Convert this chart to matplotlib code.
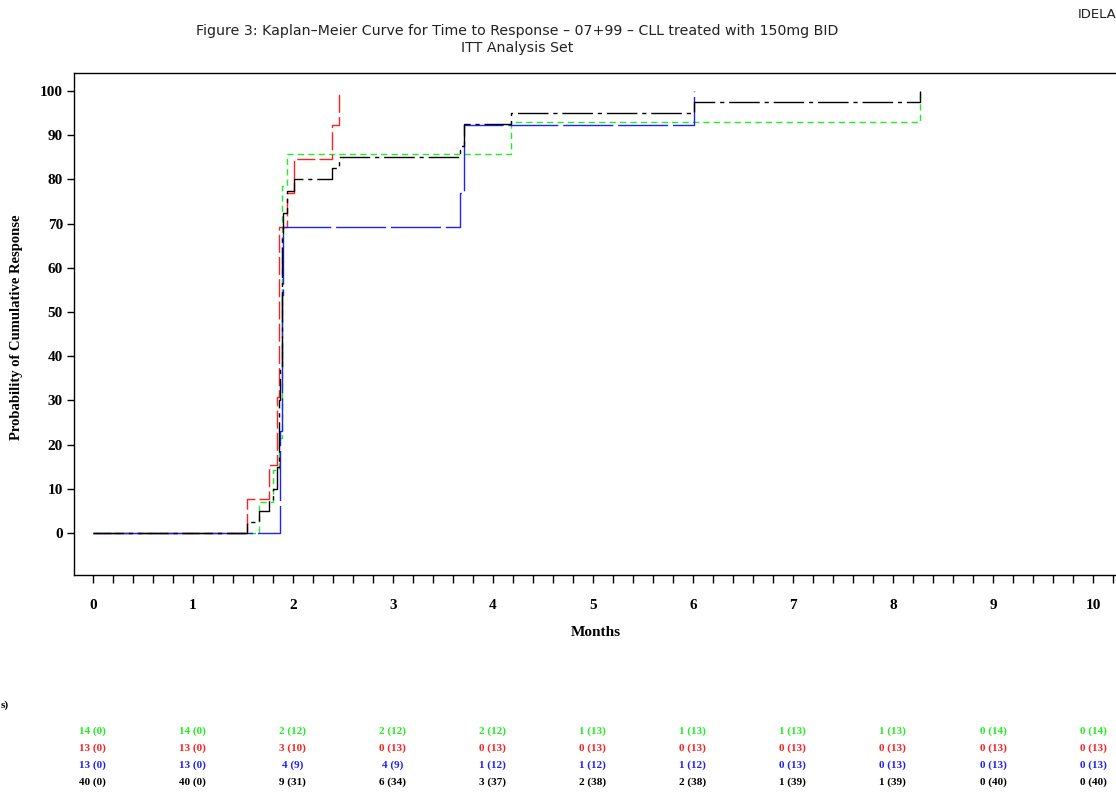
import matplotlib
matplotlib.use("Agg")
import matplotlib.pyplot as plt
import matplotlib.transforms as mtransforms

# Kaplan-Meier step data (months, cumulative response %)
green_t = [0, 1.665, 1.80, 1.865, 1.895, 1.94, 4.18, 8.27]
green_v = [0, 7.1, 14.3, 21.4, 78.6, 85.7, 92.9, 100]

red_t = [0, 1.54, 1.765, 1.84, 1.865, 1.94, 2.01, 2.395, 2.46]
red_v = [0, 7.7, 15.4, 30.8, 69.2, 76.9, 84.6, 92.3, 100]

blue_t = [0, 1.87, 1.895, 1.905, 3.67, 3.715, 6.01]
blue_v = [0, 23.1, 53.8, 69.2, 76.9, 92.3, 100]

black_t = [0, 1.54, 1.665, 1.765, 1.80, 1.84, 1.865, 1.87, 1.895, 1.905,
           1.94, 2.01, 2.395, 2.46, 3.67, 3.715, 4.18, 6.01, 8.27]
black_v = [0, 2.5, 5.0, 7.5, 10.0, 15.0, 30.0, 37.5, 67.5, 72.5,
           77.5, 80.0, 82.5, 85.0, 87.5, 92.5, 95.0, 97.5, 100]

# subjects at risk (events) at each month
risk_months = list(range(0, 11))
risk_green = ["14 (0)", "14 (0)", "2 (12)", "2 (12)", "2 (12)", "1 (13)",
              "1 (13)", "1 (13)", "1 (13)", "0 (14)", "0 (14)"]
risk_red = ["13 (0)", "13 (0)", "3 (10)", "0 (13)", "0 (13)", "0 (13)",
            "0 (13)", "0 (13)", "0 (13)", "0 (13)", "0 (13)"]
risk_blue = ["13 (0)", "13 (0)", "4 (9)", "4 (9)", "1 (12)", "1 (12)",
             "1 (12)", "0 (13)", "0 (13)", "0 (13)", "0 (13)"]
risk_black = ["40 (0)", "40 (0)", "9 (31)", "6 (34)", "3 (37)", "2 (38)",
              "2 (38)", "1 (39)", "1 (39)", "0 (40)", "0 (40)"]

GREEN = "#22ee22"
RED = "#ff2020"
BLUE = "#2020ff"
BLACK = "#000000"

W, H = 1116, 793
fig = plt.figure(figsize=(W / 100, H / 100), dpi=100)
ax = fig.add_axes([74 / W, 1 - 575 / H, (1125 - 74) / W, (575 - 73) / H])

ax.step(green_t, green_v, where="post", color=GREEN, lw=1.0, dashes=(4.5, 3))
ax.step(red_t, red_v, where="post", color=RED, lw=1.0, dashes=(13, 3))
ax.step(blue_t, blue_v, where="post", color=BLUE, lw=1.0, dashes=(36, 3.5))
ax.step(black_t, black_v, where="post", color=BLACK, lw=1.0,
        dashes=(22, 3.5, 3, 3.5))

ax.set_xlim(-0.187, 10.32)
ax.set_ylim(-9.5, 104.1)

serif = "Liberation Serif"
ax.set_yticks(range(0, 101, 10))
ax.set_yticklabels([str(v) for v in range(0, 101, 10)],
                   family=serif, fontweight="bold", fontsize=11)
ax.set_xticks(range(0, 11))
ax.set_xticklabels([str(v) for v in range(0, 11)],
                   family=serif, fontweight="bold", fontsize=11)
ax.set_xticks([i * 0.2 for i in range(0, 52)], minor=True)
ax.tick_params(axis="y", direction="out", length=5, width=1, pad=3)
ax.tick_params(axis="x", which="both", direction="out", length=6, width=1,
               pad=11)
ax.spines["right"].set_visible(False)
for s in ("left", "bottom", "top"):
    ax.spines[s].set_linewidth(1.0)

fig.text(17 / W, 1 - 327 / H, "Probability of Cumulative Response",
         rotation=90, ha="center", va="center", family=serif,
         fontweight="bold", fontsize=10.5)
fig.text(596 / W, 1 - 633 / H, "Months", ha="center", va="center",
         family=serif, fontweight="bold", fontsize=11)

fig.text(517 / W, 1 - 31 / H,
         "Figure 3: Kaplan\u2013Meier Curve for Time to Response \u2013 07+99 "
         "\u2013 CLL treated with 150mg BID",
         ha="center", va="center", fontsize=10.2, color="#222222")
fig.text(517 / W, 1 - 48 / H, "ITT Analysis Set", ha="center", va="center",
         fontsize=10.2, color="#222222")
fig.text(1078 / W, 1 - 14 / H, "IDELA", ha="left", va="center",
         fontsize=9.5, color="#222222")

# at-risk table below the axis
fig.text(1 / W, 1 - 705 / H, "s)", ha="left", va="center", family=serif,
         fontweight="bold", fontsize=8)
trans = mtransforms.blended_transform_factory(ax.transData, fig.transFigure)
rows = [(risk_green, GREEN, 731), (risk_red, RED, 748),
        (risk_blue, BLUE, 765), (risk_black, BLACK, 782)]
for labels, col, ypx in rows:
    for m, lab in zip(risk_months, labels):
        ax.text(m, 1 - ypx / H, lab, transform=trans, ha="center",
                va="center", color=col, family=serif, fontweight="bold",
                fontsize=8, clip_on=False)

fig.savefig("out.png", dpi=100)
